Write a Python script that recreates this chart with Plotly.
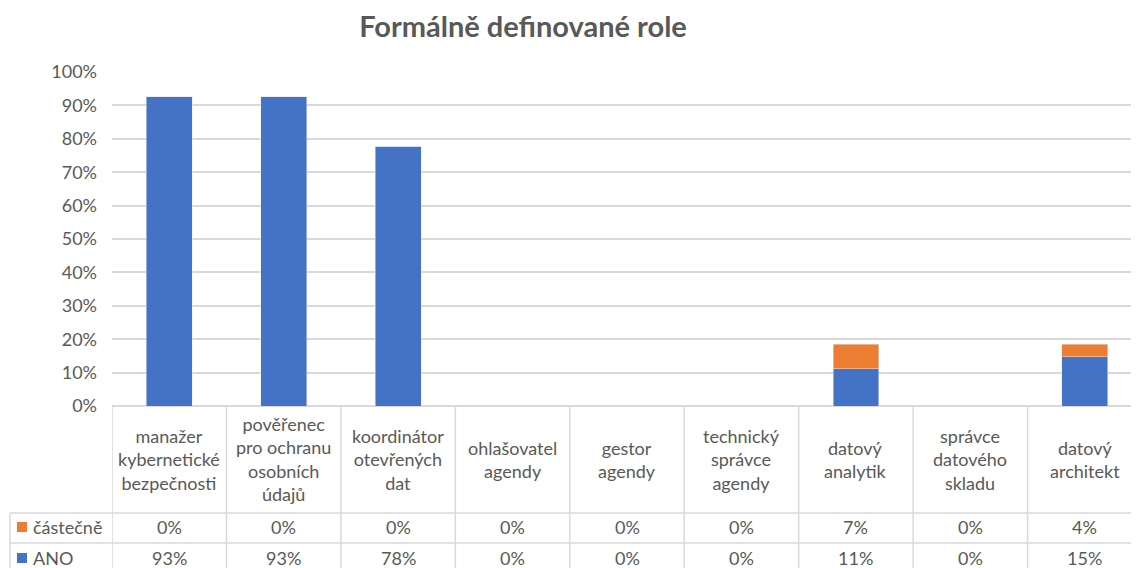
import plotly.graph_objects as go

# role categories (line breaks as shown in the data table)
roles = [
    "manažer<br>kybernetické<br>bezpečnosti",
    "pověřenec<br>pro ochranu<br>osobních<br>údajů",
    "koordinátor<br>otevřených<br>dat",
    "ohlašovatel<br>agendy",
    "gestor<br>agendy",
    "technický<br>správce<br>agendy",
    "datový<br>analytik",
    "správce<br>datového<br>skladu",
    "datový<br>architekt",
]
ano = [0.926, 0.926, 0.778, 0, 0, 0, 0.111, 0, 0.148]
castecne = [0, 0, 0, 0, 0, 0, 0.074, 0, 0.037]
y_ticks = [0, 0.1, 0.2, 0.3, 0.4, 0.5, 0.6, 0.7, 0.8, 0.9, 1.0]

BLUE = "#4472C4"
ORANGE = "#ED7D31"
TEXT = "#595959"
GRID = "#D9D9D9"
FONT = "Lato, sans-serif"
FS = 18

# the page puts the figure 8px in from the top-left corner
OFF = 8
W, H = 1139, 568
L = 112 - OFF
T = 72 - OFF
B = H - (406 - OFF)
R = W - (1142 - OFF)
plot_h = H - T - B
plot_w = W - L - R


def py(sy):
    """screen row -> paper y"""
    return (H - B - (sy - OFF)) / plot_h


def px(sx):
    """screen column -> paper x"""
    return (sx - OFF - L) / plot_w


fig = go.Figure()
fig.add_trace(go.Bar(x=roles, y=ano, name="ANO", marker_color=BLUE, width=0.4))
fig.add_trace(go.Bar(x=roles, y=castecne, name="částečně", marker_color=ORANGE, width=0.4))

line = dict(color=GRID, width=1.5)
shapes = []
# table horizontal lines
for yy in (513, 543):
    shapes.append(dict(type="line", xref="paper", yref="paper",
                       x0=px(10), x1=1.01, y0=py(yy), y1=py(yy), line=line))
# table vertical lines at category borders
for i in range(len(roles) + 1):
    shapes.append(dict(type="line", xref="x", yref="paper",
                       x0=i - 0.5, x1=i - 0.5, y0=0, y1=py(580), line=line))
# left border of the series-name column
shapes.append(dict(type="line", xref="paper", yref="paper",
                   x0=px(10), x1=px(10), y0=py(513), y1=py(580), line=line))

annotations = []
for i, r in enumerate(roles):
    annotations.append(dict(x=i, y=py(459), xref="x", yref="paper", text=r,
                            showarrow=False, yanchor="middle",
                            font=dict(size=FS, color=TEXT, family=FONT)))
    annotations.append(dict(x=i, y=py(527), xref="x", yref="paper",
                            text=f"{round(castecne[i] * 100)}%", showarrow=False,
                            yanchor="middle", font=dict(size=FS, color=TEXT, family=FONT)))
    annotations.append(dict(x=i, y=py(558), xref="x", yref="paper",
                            text=f"{round(ano[i] * 100)}%", showarrow=False,
                            yanchor="middle", font=dict(size=FS, color=TEXT, family=FONT)))

# series keys in the table's first column
for name, color, yy in [("částečně", ORANGE, 527), ("ANO", BLUE, 558)]:
    shapes.append(dict(type="rect", xref="paper", yref="paper",
                       x0=px(17), x1=px(27), y0=py(yy - 5), y1=py(yy + 5),
                       fillcolor=color, line=dict(width=0)))
    annotations.append(dict(x=px(31), y=py(yy), xref="paper", yref="paper",
                            text=name, showarrow=False, xanchor="left", yanchor="middle",
                            font=dict(size=FS, color=TEXT, family=FONT)))

fig.update_layout(
    width=W, height=H,
    margin=dict(l=L, r=R, t=T, b=B),
    paper_bgcolor="white", plot_bgcolor="white",
    barmode="stack", showlegend=False,
    font=dict(family=FONT, size=FS, color=TEXT),
    title=dict(text="<b>Formálně definované role</b>", xref="container",
               x=(523 - OFF) / W, xanchor="center",
               y=1 - (27 - OFF) / H, yanchor="middle",
               font=dict(size=29, color=TEXT, family=FONT)),
    shapes=shapes, annotations=annotations,
)
fig.update_xaxes(showticklabels=False, showgrid=False, showline=False,
                 range=[-0.5, len(roles) - 0.5])
fig.update_yaxes(range=[0, 1], tickvals=y_ticks, tickformat=".0%",
                 showgrid=True, gridcolor=GRID, gridwidth=1.5,
                 zeroline=True, zerolinecolor=GRID, zerolinewidth=1.5,
                 ticklabelstandoff=14, tickfont=dict(size=FS, color=TEXT, family=FONT))

fig.write_html("out.html")
